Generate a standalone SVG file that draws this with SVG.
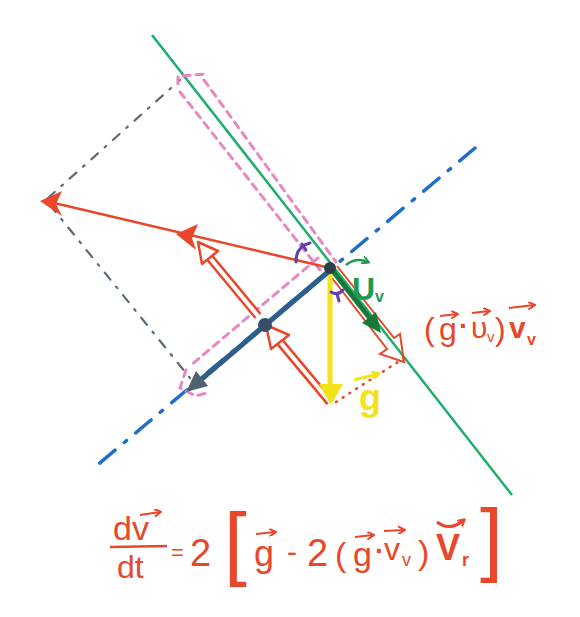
<svg xmlns="http://www.w3.org/2000/svg" width="580" height="617" viewBox="0 0 580 617">
<style>
.red{fill:#E8472B}
.eq{font-family:"Liberation Sans",Arial,sans-serif;fill:#E8472B}
.gray{stroke:#5a6a78;stroke-width:2.2;fill:none;stroke-dasharray:9 9 2 9;stroke-linecap:round}
.pink{stroke:#E888C0;stroke-width:3;fill:none;stroke-dasharray:7 6;stroke-linecap:round}
.vr{stroke:#E8472B;stroke-width:2.2;fill:none;marker-end:url(#hr)}
</style>
<defs>
<marker id="hr" markerWidth="8" markerHeight="8" refX="6" refY="4" orient="auto" markerUnits="userSpaceOnUse"><path d="M0,0 L7,4 L0,8" fill="none" stroke="#E8472B" stroke-width="2"/></marker>
<marker id="hg" markerWidth="8" markerHeight="8" refX="6" refY="4" orient="auto" markerUnits="userSpaceOnUse"><path d="M0,0 L7,4 L0,8" fill="none" stroke="#1E9A50" stroke-width="2"/></marker>
<marker id="hy" markerWidth="8" markerHeight="8" refX="6" refY="4" orient="auto" markerUnits="userSpaceOnUse"><path d="M0,0 L7,4 L0,8" fill="none" stroke="#F5E31A" stroke-width="3"/></marker>
</defs>
<rect width="580" height="617" fill="#fff"/>

<g id="connectors">
<!-- green line -->
<line x1="152" y1="35" x2="512" y2="495" stroke="#1DAF6A" stroke-width="2.5"/>
<!-- blue dash-dot axis -->
<line x1="475" y1="148" x2="95" y2="467" stroke="#1F6FC6" stroke-width="3.5" stroke-dasharray="20 12 3 12" stroke-linecap="round"/>
<!-- gray construction lines -->
<line class="gray" x1="48" y1="198" x2="180" y2="80"/>
<line class="gray" x1="50" y1="205" x2="190" y2="378"/>
<!-- pink dashed outlines -->
<path class="pink" d="M178 84 L178 76 L206 74 M180 92 L320 270 M204 80 L336 262"/>
<path class="pink" d="M318 258 L190 366 M315 283 L205 378 M186 370 L180 388 L196 396 L210 392"/>
<!-- long red arrow -->
<line x1="330" y1="268" x2="50" y2="202" stroke="#E8472B" stroke-width="2.5"/>
<polygon class="red" points="40,201 62,191 56,204 62,216"/>
<polygon class="red" points="176,234 198,224 192,238 196,250"/>
<!-- hollow red arrows -->
<g stroke-linejoin="round">
<line x1="330" y1="402" x2="280" y2="342" stroke="#E8472B" stroke-width="9"/>
<line x1="330" y1="402" x2="280" y2="342" stroke="#fff" stroke-width="4"/>
<polygon points="266,325 289,335 271,349" fill="#fff" stroke="#E8472B" stroke-width="2.5"/>
<line x1="258" y1="316" x2="210" y2="258" stroke="#E8472B" stroke-width="9"/>
<line x1="258" y1="316" x2="210" y2="258" stroke="#fff" stroke-width="4"/>
<polygon points="198,242 218,251 202,264" fill="#fff" stroke="#E8472B" stroke-width="2.5"/>
</g>
<!-- red outline arrow along green line -->
<path d="M337 266 L394 338 L400 334 L404 362 L380 354 L387 349 L332 278" fill="none" stroke="#E8472B" stroke-width="2"/>
<!-- red dotted -->
<line x1="336" y1="402" x2="404" y2="358" stroke="#E8472B" stroke-width="2.5" stroke-dasharray="1 7" stroke-linecap="round"/>
<!-- yellow arrow -->
<line x1="330" y1="272" x2="330" y2="392" stroke="#F5E31A" stroke-width="5"/>
<polygon points="319,384 343,384 331,405" fill="#F5E31A"/>
<!-- blue arrow -->
<line x1="328" y1="272" x2="198" y2="382" stroke="#2C5E8E" stroke-width="5"/>
<polygon points="186,392 208,386 196,371" fill="#4E6272"/>
<!-- green arrow -->
<line x1="332" y1="270" x2="372" y2="321" stroke="#16793C" stroke-width="5"/>
<polygon points="381,333 362,323 376,312" fill="#16793C"/>
<!-- dots -->
<circle cx="330" cy="268" r="6" fill="#26404A"/>
<circle cx="265" cy="325" r="7" fill="#3A4E6A"/>
<!-- purple angle marks -->
<path d="M296 262 Q296 246 310 243 M302 244 L306 250" fill="none" stroke="#6040B0" stroke-width="3" stroke-linecap="round"/>
<path d="M331 292 Q338 296 343 290 M337 294 L339 301" fill="none" stroke="#6040B0" stroke-width="3" stroke-linecap="round"/>
</g>

<g id="label-Uv">
<path d="M346 265 Q356 257 368 262" fill="none" stroke="#1E9A50" stroke-width="2.5" marker-end="url(#hg)"/>
<text x="352" y="300" font-family="Liberation Sans,Arial,sans-serif" font-size="32" font-weight="bold" fill="#1E9A50">U</text>
<text x="375" y="302" font-family="Liberation Sans,Arial,sans-serif" font-size="16" font-weight="bold" fill="#1E9A50">v</text>
</g>

<g id="label-g">
<line x1="354" y1="380" x2="378" y2="374" stroke="#F5E31A" stroke-width="3" marker-end="url(#hy)"/>
<text x="359" y="410" font-family="Liberation Sans,Arial,sans-serif" font-size="36" font-weight="bold" fill="#F5E31A">g</text>
</g>

<g id="label-proj">
<text class="eq" x="424" y="340" font-size="32">(</text>
<line class="vr" x1="440" y1="316" x2="457" y2="314"/>
<text class="eq" x="439" y="340" font-size="32">g</text>
<text class="eq" x="459" y="335" font-size="28" font-weight="bold">·</text>
<line class="vr" x1="472" y1="313" x2="489" y2="311"/>
<text class="eq" x="471" y="338" font-size="30">υ</text>
<text class="eq" x="487" y="342" font-size="15">v</text>
<text class="eq" x="495" y="340" font-size="32">)</text>
<line class="vr" x1="509" y1="308" x2="534" y2="305"/>
<text class="eq" x="509" y="338" font-size="30" font-weight="bold">v</text>
<text class="eq" x="527" y="345" font-size="16" font-weight="bold">v</text>
</g>

<g id="equation">
<text class="eq" x="113" y="540" font-size="34">dv</text>
<line class="vr" x1="140" y1="515" x2="160" y2="512"/>
<line x1="110" y1="547" x2="167" y2="546" stroke="#E8472B" stroke-width="2.5"/>
<text class="eq" x="117" y="578" font-size="32">dt</text>
<text class="eq" x="171" y="560" font-size="22">=</text>
<text class="eq" x="190" y="566" font-size="38">2</text>
<text class="eq" x="224" y="570" font-size="82">[</text>
<line class="vr" x1="256" y1="534" x2="275" y2="532"/>
<text class="eq" x="254" y="566" font-size="36">g</text>
<text class="eq" x="287" y="562" font-size="30">-</text>
<text class="eq" x="307" y="566" font-size="38">2</text>
<text class="eq" x="335" y="566" font-size="34">(</text>
<line class="vr" x1="355" y1="537" x2="373" y2="535"/>
<text class="eq" x="353" y="566" font-size="34">g</text>
<text class="eq" x="375" y="560" font-size="28" font-weight="bold">·</text>
<line class="vr" x1="384" y1="531" x2="404" y2="530"/>
<text class="eq" x="384" y="560" font-size="32">v</text>
<text class="eq" x="402" y="566" font-size="18">v</text>
<text class="eq" x="418" y="564" font-size="34">)</text>
<path d="M437 522 Q450 532 464 520" fill="none" stroke="#E8472B" stroke-width="3" marker-end="url(#hr)"/>
<text class="eq" x="436" y="560" font-size="36" font-weight="bold">V</text>
<text class="eq" x="462" y="566" font-size="18" font-weight="bold">r</text>
<text class="eq" x="480" y="566" font-size="82">]</text>
</g>
</svg>
